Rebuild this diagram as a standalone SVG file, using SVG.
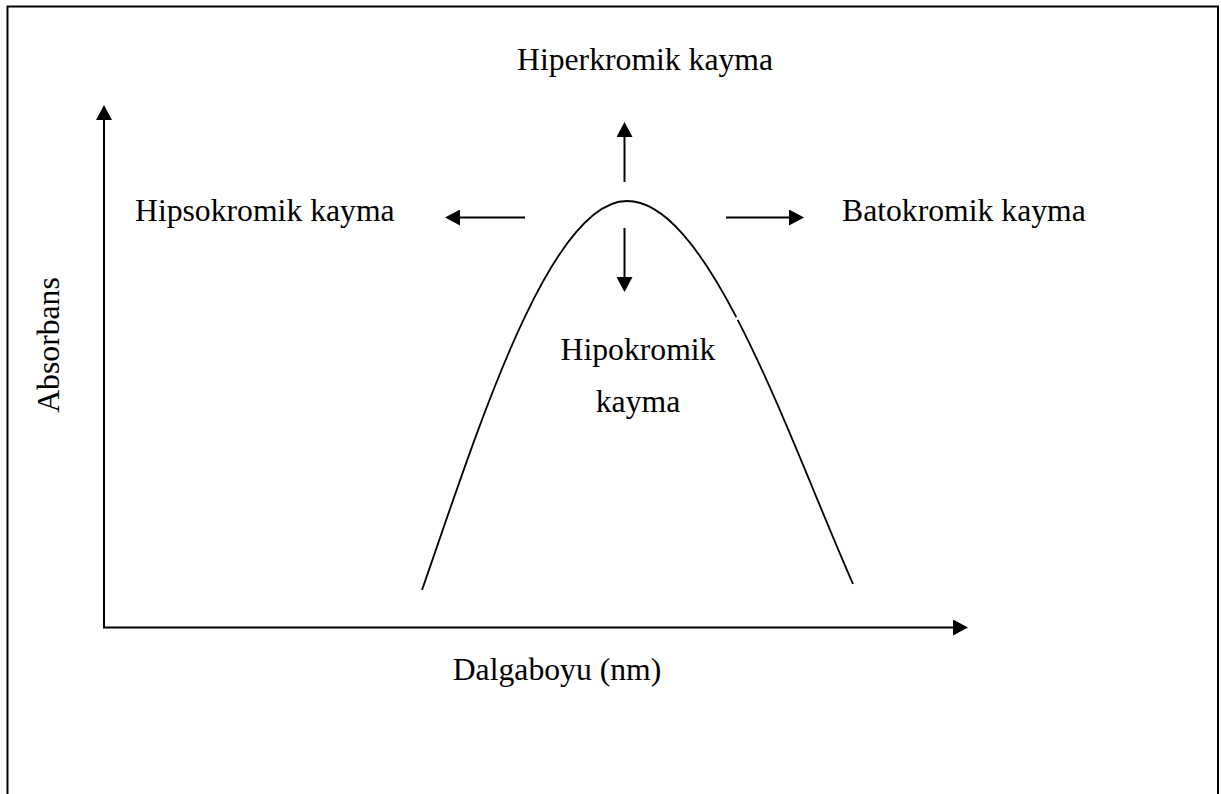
<svg xmlns="http://www.w3.org/2000/svg" width="1221" height="794" viewBox="0 0 1221 794">
<style>
.t{font-family:"Liberation Serif","Times New Roman",serif;font-size:31.7px;fill:#000}
.ln{stroke:#000;stroke-width:2;fill:none}
</style>
<defs>
<marker id="ah" markerUnits="userSpaceOnUse" markerWidth="16" markerHeight="16" refX="1" refY="8" orient="auto" viewBox="0 0 16 16">
<path d="M0,0 L15,8 L0,16 z" fill="#000"/>
</marker>
</defs>
<rect width="1221" height="794" fill="#fff"/>
<path id="frame" class="ln" d="M7.5,794 V6.5 H1218 V794"/>
<g id="connectors">
<line class="ln" x1="104" y1="627" x2="104" y2="119" marker-end="url(#ah)"/>
<line class="ln" x1="103" y1="627.5" x2="954" y2="627.5" marker-end="url(#ah)"/>
<line class="ln" x1="624.5" y1="182" x2="624.5" y2="136" marker-end="url(#ah)"/>
<line class="ln" x1="624.5" y1="228" x2="624.5" y2="278" marker-end="url(#ah)"/>
<line class="ln" x1="525" y1="217.5" x2="459" y2="217.5" marker-end="url(#ah)"/>
<line class="ln" x1="726" y1="217.5" x2="790" y2="217.5" marker-end="url(#ah)"/>
</g>
<g id="curve">
<path d="M422,590 C474.5,440 548,201 627,201" fill="none" stroke="#000" stroke-width="1.8"/>
<path d="M627,201 C709,201 787,434 853,584" fill="none" stroke="#000" stroke-width="1.8" stroke-dasharray="166 3 2000"/>
</g>
<g id="labels">
<text class="t" x="517" y="70">Hiperkromik kayma</text>
<text class="t" x="135" y="221">Hipsokromik kayma</text>
<text class="t" x="842" y="221">Batokromik kayma</text>
<text class="t" x="638" y="360" text-anchor="middle">Hipokromik</text>
<text class="t" x="638" y="412" text-anchor="middle">kayma</text>
<text class="t" transform="translate(59,345) rotate(-90)" text-anchor="middle">Absorbans</text>
<text class="t" x="557" y="680" text-anchor="middle">Dalgaboyu (nm)</text>
</g>
</svg>
